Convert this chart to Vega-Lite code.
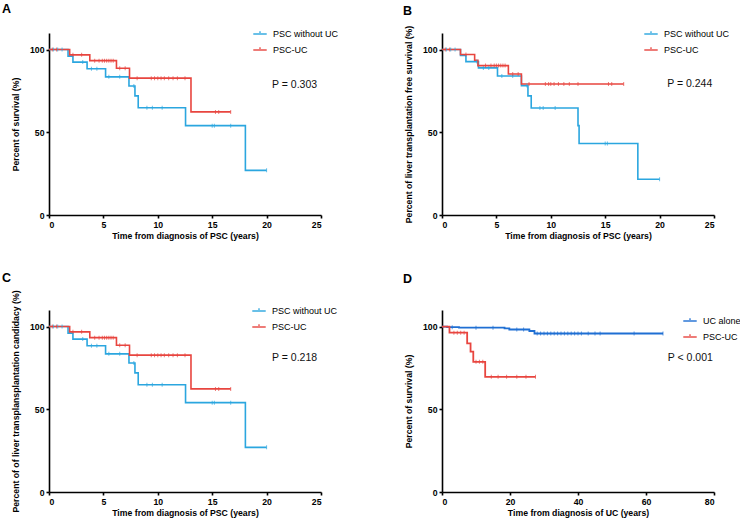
{
  "$schema": "https://vega.github.io/schema/vega-lite/v6.json",
  "background": "white",
  "padding": {"left": 2, "top": 2, "right": 0, "bottom": 0},
  "config": {
    "view": {"stroke": null},
    "font": "Liberation Sans",
    "axis": {"domainColor": "black", "domainWidth": 1.6, "tickColor": "black", "tickWidth": 1.6, "tickSize": 3, "labelFont": "Liberation Sans", "labelFontWeight": "bold", "labelFontSize": 8.7, "labelColor": "black", "titleFont": "Liberation Sans", "titleFontWeight": "bold", "titleFontSize": 8.7, "titleColor": "black", "grid": false, "labelPadding": 2},
    "axisY": {"titlePadding": 9},
    "axisX": {"titlePadding": 3},
    "title": {"anchor": "start", "frame": "group", "fontSize": 12.5, "font": "Liberation Sans", "fontWeight": "bold", "color": "black", "baseline": "alphabetic"},
    "legend": {"orient": "none", "title": null, "symbolType": "M-1,0H1M0,-0.4V0.15", "symbolSize": 180, "symbolStrokeWidth": 1.8, "labelFontSize": 9, "labelFont": "Liberation Sans", "labelColor": "black", "rowPadding": 3, "labelOffset": 5},
    "text": {"font": "Liberation Sans"}
  },
  "datasets": {
    "steps": [
      {"p": "A", "g": "PSC without UC", "t": 0, "s": 100}, {"p": "A", "g": "PSC without UC", "t": 1.75, "s": 96}, {"p": "A", "g": "PSC without UC", "t": 2.2, "s": 92.4}, {"p": "A", "g": "PSC without UC", "t": 3.5, "s": 88.4}, {"p": "A", "g": "PSC without UC", "t": 5.2, "s": 83.5}, {"p": "A", "g": "PSC without UC", "t": 7.35, "s": 78}, {"p": "A", "g": "PSC without UC", "t": 7.9, "s": 72}, {"p": "A", "g": "PSC without UC", "t": 8.2, "s": 64.8}, {"p": "A", "g": "PSC without UC", "t": 12.55, "s": 54}, {"p": "A", "g": "PSC without UC", "t": 18.05, "s": 27}, {"p": "A", "g": "PSC without UC", "t": 20, "s": 27},
      {"p": "A", "g": "PSC-UC", "t": 0, "s": 100}, {"p": "A", "g": "PSC-UC", "t": 1.9, "s": 96.8}, {"p": "A", "g": "PSC-UC", "t": 3.75, "s": 93.3}, {"p": "A", "g": "PSC-UC", "t": 6.2, "s": 88.7}, {"p": "A", "g": "PSC-UC", "t": 7.4, "s": 82.7}, {"p": "A", "g": "PSC-UC", "t": 13.05, "s": 62.3}, {"p": "A", "g": "PSC-UC", "t": 16.7, "s": 62.3},
      {"p": "B", "g": "PSC without UC", "t": 0, "s": 100}, {"p": "B", "g": "PSC without UC", "t": 1.7, "s": 96.4}, {"p": "B", "g": "PSC without UC", "t": 2.2, "s": 92.7}, {"p": "B", "g": "PSC without UC", "t": 3.35, "s": 88.9}, {"p": "B", "g": "PSC without UC", "t": 5.1, "s": 84}, {"p": "B", "g": "PSC without UC", "t": 7.3, "s": 78.2}, {"p": "B", "g": "PSC without UC", "t": 7.9, "s": 72}, {"p": "B", "g": "PSC without UC", "t": 8.2, "s": 64.7}, {"p": "B", "g": "PSC without UC", "t": 12.5, "s": 54}, {"p": "B", "g": "PSC without UC", "t": 12.6, "s": 43.2}, {"p": "B", "g": "PSC without UC", "t": 18, "s": 21.6}, {"p": "B", "g": "PSC without UC", "t": 20, "s": 21.6},
      {"p": "B", "g": "PSC-UC", "t": 0, "s": 100}, {"p": "B", "g": "PSC-UC", "t": 1.7, "s": 97}, {"p": "B", "g": "PSC-UC", "t": 3.0, "s": 93.5}, {"p": "B", "g": "PSC-UC", "t": 3.3, "s": 90.3}, {"p": "B", "g": "PSC-UC", "t": 6.1, "s": 85.2}, {"p": "B", "g": "PSC-UC", "t": 7.3, "s": 79.2}, {"p": "B", "g": "PSC-UC", "t": 16.7, "s": 79.2},
      {"p": "C", "g": "PSC without UC", "t": 0, "s": 100}, {"p": "C", "g": "PSC without UC", "t": 1.75, "s": 96}, {"p": "C", "g": "PSC without UC", "t": 2.2, "s": 92.4}, {"p": "C", "g": "PSC without UC", "t": 3.5, "s": 88.4}, {"p": "C", "g": "PSC without UC", "t": 5.2, "s": 83.5}, {"p": "C", "g": "PSC without UC", "t": 7.35, "s": 78}, {"p": "C", "g": "PSC without UC", "t": 7.9, "s": 72}, {"p": "C", "g": "PSC without UC", "t": 8.2, "s": 64.8}, {"p": "C", "g": "PSC without UC", "t": 12.55, "s": 54}, {"p": "C", "g": "PSC without UC", "t": 18.05, "s": 27}, {"p": "C", "g": "PSC without UC", "t": 20, "s": 27},
      {"p": "C", "g": "PSC-UC", "t": 0, "s": 100}, {"p": "C", "g": "PSC-UC", "t": 1.9, "s": 96.8}, {"p": "C", "g": "PSC-UC", "t": 3.75, "s": 93.3}, {"p": "C", "g": "PSC-UC", "t": 6.2, "s": 88.7}, {"p": "C", "g": "PSC-UC", "t": 7.4, "s": 82.7}, {"p": "C", "g": "PSC-UC", "t": 13.05, "s": 62.3}, {"p": "C", "g": "PSC-UC", "t": 16.7, "s": 62.3},
      {"p": "D", "g": "UC alone", "t": 0, "s": 100}, {"p": "D", "g": "UC alone", "t": 1.5, "s": 99.6}, {"p": "D", "g": "UC alone", "t": 5, "s": 99.3}, {"p": "D", "g": "UC alone", "t": 18.4, "s": 98.9}, {"p": "D", "g": "UC alone", "t": 19.8, "s": 98.2}, {"p": "D", "g": "UC alone", "t": 25.7, "s": 97.3}, {"p": "D", "g": "UC alone", "t": 27.2, "s": 95.8}, {"p": "D", "g": "UC alone", "t": 65, "s": 95.8},
      {"p": "D", "g": "PSC-UC", "t": 0, "s": 100}, {"p": "D", "g": "PSC-UC", "t": 2.2, "s": 96.3}, {"p": "D", "g": "PSC-UC", "t": 7.4, "s": 89.8}, {"p": "D", "g": "PSC-UC", "t": 8.4, "s": 84.8}, {"p": "D", "g": "PSC-UC", "t": 9.2, "s": 78.7}, {"p": "D", "g": "PSC-UC", "t": 12.7, "s": 69.6}, {"p": "D", "g": "PSC-UC", "t": 27.5, "s": 69.6}
    ],
    "cens": [
      {"p": "A", "g": "PSC without UC", "t": 0.4, "s": 100}, {"p": "A", "g": "PSC without UC", "t": 0.8, "s": 100}, {"p": "A", "g": "PSC without UC", "t": 1.2, "s": 100}, {"p": "A", "g": "PSC without UC", "t": 3.1, "s": 92.4}, {"p": "A", "g": "PSC without UC", "t": 3.9, "s": 88.4}, {"p": "A", "g": "PSC without UC", "t": 4.4, "s": 88.4}, {"p": "A", "g": "PSC without UC", "t": 5.5, "s": 83.5}, {"p": "A", "g": "PSC without UC", "t": 6.5, "s": 83.5}, {"p": "A", "g": "PSC without UC", "t": 7.8, "s": 78}, {"p": "A", "g": "PSC without UC", "t": 9, "s": 64.8}, {"p": "A", "g": "PSC without UC", "t": 9.5, "s": 64.8}, {"p": "A", "g": "PSC without UC", "t": 10.4, "s": 64.8}, {"p": "A", "g": "PSC without UC", "t": 15, "s": 54}, {"p": "A", "g": "PSC without UC", "t": 15.2, "s": 54}, {"p": "A", "g": "PSC without UC", "t": 16.7, "s": 54}, {"p": "A", "g": "PSC without UC", "t": 20, "s": 27},
      {"p": "A", "g": "PSC-UC", "t": 0.3, "s": 100}, {"p": "A", "g": "PSC-UC", "t": 0.7, "s": 100}, {"p": "A", "g": "PSC-UC", "t": 2.2, "s": 96.8}, {"p": "A", "g": "PSC-UC", "t": 3.0, "s": 96.8}, {"p": "A", "g": "PSC-UC", "t": 4.2, "s": 93.3}, {"p": "A", "g": "PSC-UC", "t": 4.6, "s": 93.3}, {"p": "A", "g": "PSC-UC", "t": 4.9, "s": 93.3}, {"p": "A", "g": "PSC-UC", "t": 5.1, "s": 93.3}, {"p": "A", "g": "PSC-UC", "t": 5.3, "s": 93.3}, {"p": "A", "g": "PSC-UC", "t": 5.5, "s": 93.3}, {"p": "A", "g": "PSC-UC", "t": 5.7, "s": 93.3}, {"p": "A", "g": "PSC-UC", "t": 5.9, "s": 93.3}, {"p": "A", "g": "PSC-UC", "t": 6.5, "s": 88.7}, {"p": "A", "g": "PSC-UC", "t": 7.0, "s": 88.7}, {"p": "A", "g": "PSC-UC", "t": 8.1, "s": 82.7}, {"p": "A", "g": "PSC-UC", "t": 9.4, "s": 82.7}, {"p": "A", "g": "PSC-UC", "t": 9.7, "s": 82.7}, {"p": "A", "g": "PSC-UC", "t": 10.0, "s": 82.7}, {"p": "A", "g": "PSC-UC", "t": 10.3, "s": 82.7}, {"p": "A", "g": "PSC-UC", "t": 10.6, "s": 82.7}, {"p": "A", "g": "PSC-UC", "t": 11.0, "s": 82.7}, {"p": "A", "g": "PSC-UC", "t": 11.4, "s": 82.7}, {"p": "A", "g": "PSC-UC", "t": 11.8, "s": 82.7}, {"p": "A", "g": "PSC-UC", "t": 12.5, "s": 82.7}, {"p": "A", "g": "PSC-UC", "t": 15.3, "s": 62.3}, {"p": "A", "g": "PSC-UC", "t": 15.6, "s": 62.3}, {"p": "A", "g": "PSC-UC", "t": 16.7, "s": 62.3},
      {"p": "B", "g": "PSC without UC", "t": 0.4, "s": 100}, {"p": "B", "g": "PSC without UC", "t": 0.8, "s": 100}, {"p": "B", "g": "PSC without UC", "t": 1.2, "s": 100}, {"p": "B", "g": "PSC without UC", "t": 3.2, "s": 92.7}, {"p": "B", "g": "PSC without UC", "t": 3.8, "s": 88.9}, {"p": "B", "g": "PSC without UC", "t": 4.3, "s": 88.9}, {"p": "B", "g": "PSC without UC", "t": 5.5, "s": 84}, {"p": "B", "g": "PSC without UC", "t": 6.5, "s": 84}, {"p": "B", "g": "PSC without UC", "t": 7.8, "s": 78.2}, {"p": "B", "g": "PSC without UC", "t": 9, "s": 64.7}, {"p": "B", "g": "PSC without UC", "t": 9.3, "s": 64.7}, {"p": "B", "g": "PSC without UC", "t": 10.4, "s": 64.7}, {"p": "B", "g": "PSC without UC", "t": 15, "s": 43.2}, {"p": "B", "g": "PSC without UC", "t": 15.2, "s": 43.2}, {"p": "B", "g": "PSC without UC", "t": 20, "s": 21.6},
      {"p": "B", "g": "PSC-UC", "t": 0.3, "s": 100}, {"p": "B", "g": "PSC-UC", "t": 0.7, "s": 100}, {"p": "B", "g": "PSC-UC", "t": 2.2, "s": 97}, {"p": "B", "g": "PSC-UC", "t": 4.0, "s": 90.3}, {"p": "B", "g": "PSC-UC", "t": 4.5, "s": 90.3}, {"p": "B", "g": "PSC-UC", "t": 4.8, "s": 90.3}, {"p": "B", "g": "PSC-UC", "t": 5.0, "s": 90.3}, {"p": "B", "g": "PSC-UC", "t": 5.2, "s": 90.3}, {"p": "B", "g": "PSC-UC", "t": 5.4, "s": 90.3}, {"p": "B", "g": "PSC-UC", "t": 5.6, "s": 90.3}, {"p": "B", "g": "PSC-UC", "t": 5.8, "s": 90.3}, {"p": "B", "g": "PSC-UC", "t": 6.5, "s": 85.2}, {"p": "B", "g": "PSC-UC", "t": 7.0, "s": 85.2}, {"p": "B", "g": "PSC-UC", "t": 8.0, "s": 79.2}, {"p": "B", "g": "PSC-UC", "t": 9.5, "s": 79.2}, {"p": "B", "g": "PSC-UC", "t": 9.8, "s": 79.2}, {"p": "B", "g": "PSC-UC", "t": 10.0, "s": 79.2}, {"p": "B", "g": "PSC-UC", "t": 10.3, "s": 79.2}, {"p": "B", "g": "PSC-UC", "t": 10.7, "s": 79.2}, {"p": "B", "g": "PSC-UC", "t": 11.2, "s": 79.2}, {"p": "B", "g": "PSC-UC", "t": 11.7, "s": 79.2}, {"p": "B", "g": "PSC-UC", "t": 12.5, "s": 79.2}, {"p": "B", "g": "PSC-UC", "t": 15.3, "s": 79.2}, {"p": "B", "g": "PSC-UC", "t": 15.6, "s": 79.2}, {"p": "B", "g": "PSC-UC", "t": 16.7, "s": 79.2},
      {"p": "C", "g": "PSC without UC", "t": 0.4, "s": 100}, {"p": "C", "g": "PSC without UC", "t": 0.8, "s": 100}, {"p": "C", "g": "PSC without UC", "t": 1.2, "s": 100}, {"p": "C", "g": "PSC without UC", "t": 3.1, "s": 92.4}, {"p": "C", "g": "PSC without UC", "t": 3.9, "s": 88.4}, {"p": "C", "g": "PSC without UC", "t": 4.4, "s": 88.4}, {"p": "C", "g": "PSC without UC", "t": 5.5, "s": 83.5}, {"p": "C", "g": "PSC without UC", "t": 6.5, "s": 83.5}, {"p": "C", "g": "PSC without UC", "t": 7.8, "s": 78}, {"p": "C", "g": "PSC without UC", "t": 9, "s": 64.8}, {"p": "C", "g": "PSC without UC", "t": 9.5, "s": 64.8}, {"p": "C", "g": "PSC without UC", "t": 10.4, "s": 64.8}, {"p": "C", "g": "PSC without UC", "t": 15, "s": 54}, {"p": "C", "g": "PSC without UC", "t": 15.2, "s": 54}, {"p": "C", "g": "PSC without UC", "t": 16.7, "s": 54}, {"p": "C", "g": "PSC without UC", "t": 20, "s": 27},
      {"p": "C", "g": "PSC-UC", "t": 0.3, "s": 100}, {"p": "C", "g": "PSC-UC", "t": 0.7, "s": 100}, {"p": "C", "g": "PSC-UC", "t": 2.2, "s": 96.8}, {"p": "C", "g": "PSC-UC", "t": 3.0, "s": 96.8}, {"p": "C", "g": "PSC-UC", "t": 4.2, "s": 93.3}, {"p": "C", "g": "PSC-UC", "t": 4.6, "s": 93.3}, {"p": "C", "g": "PSC-UC", "t": 4.9, "s": 93.3}, {"p": "C", "g": "PSC-UC", "t": 5.1, "s": 93.3}, {"p": "C", "g": "PSC-UC", "t": 5.3, "s": 93.3}, {"p": "C", "g": "PSC-UC", "t": 5.5, "s": 93.3}, {"p": "C", "g": "PSC-UC", "t": 5.7, "s": 93.3}, {"p": "C", "g": "PSC-UC", "t": 5.9, "s": 93.3}, {"p": "C", "g": "PSC-UC", "t": 6.5, "s": 88.7}, {"p": "C", "g": "PSC-UC", "t": 7.0, "s": 88.7}, {"p": "C", "g": "PSC-UC", "t": 8.1, "s": 82.7}, {"p": "C", "g": "PSC-UC", "t": 9.4, "s": 82.7}, {"p": "C", "g": "PSC-UC", "t": 9.7, "s": 82.7}, {"p": "C", "g": "PSC-UC", "t": 10.0, "s": 82.7}, {"p": "C", "g": "PSC-UC", "t": 10.3, "s": 82.7}, {"p": "C", "g": "PSC-UC", "t": 10.6, "s": 82.7}, {"p": "C", "g": "PSC-UC", "t": 11.0, "s": 82.7}, {"p": "C", "g": "PSC-UC", "t": 11.4, "s": 82.7}, {"p": "C", "g": "PSC-UC", "t": 11.8, "s": 82.7}, {"p": "C", "g": "PSC-UC", "t": 12.5, "s": 82.7}, {"p": "C", "g": "PSC-UC", "t": 15.3, "s": 62.3}, {"p": "C", "g": "PSC-UC", "t": 15.6, "s": 62.3}, {"p": "C", "g": "PSC-UC", "t": 16.7, "s": 62.3},
      {"p": "D", "g": "UC alone", "t": 3, "s": 99.6}, {"p": "D", "g": "UC alone", "t": 10, "s": 99.3}, {"p": "D", "g": "UC alone", "t": 15, "s": 99.3}, {"p": "D", "g": "UC alone", "t": 22, "s": 98.2}, {"p": "D", "g": "UC alone", "t": 24, "s": 98.2}, {"p": "D", "g": "UC alone", "t": 28, "s": 95.8}, {"p": "D", "g": "UC alone", "t": 29, "s": 95.8}, {"p": "D", "g": "UC alone", "t": 30, "s": 95.8}, {"p": "D", "g": "UC alone", "t": 31, "s": 95.8}, {"p": "D", "g": "UC alone", "t": 32, "s": 95.8}, {"p": "D", "g": "UC alone", "t": 33, "s": 95.8}, {"p": "D", "g": "UC alone", "t": 34, "s": 95.8}, {"p": "D", "g": "UC alone", "t": 35, "s": 95.8}, {"p": "D", "g": "UC alone", "t": 36, "s": 95.8}, {"p": "D", "g": "UC alone", "t": 37, "s": 95.8}, {"p": "D", "g": "UC alone", "t": 38, "s": 95.8}, {"p": "D", "g": "UC alone", "t": 39, "s": 95.8}, {"p": "D", "g": "UC alone", "t": 40, "s": 95.8}, {"p": "D", "g": "UC alone", "t": 41, "s": 95.8}, {"p": "D", "g": "UC alone", "t": 43, "s": 95.8}, {"p": "D", "g": "UC alone", "t": 45, "s": 95.8}, {"p": "D", "g": "UC alone", "t": 46.5, "s": 95.8}, {"p": "D", "g": "UC alone", "t": 56.5, "s": 95.8}, {"p": "D", "g": "UC alone", "t": 65, "s": 95.8},
      {"p": "D", "g": "PSC-UC", "t": 3.5, "s": 96.3}, {"p": "D", "g": "PSC-UC", "t": 4.5, "s": 96.3}, {"p": "D", "g": "PSC-UC", "t": 5.5, "s": 96.3}, {"p": "D", "g": "PSC-UC", "t": 6.5, "s": 96.3}, {"p": "D", "g": "PSC-UC", "t": 10, "s": 78.7}, {"p": "D", "g": "PSC-UC", "t": 11, "s": 78.7}, {"p": "D", "g": "PSC-UC", "t": 12, "s": 78.7}, {"p": "D", "g": "PSC-UC", "t": 14.5, "s": 69.6}, {"p": "D", "g": "PSC-UC", "t": 16.5, "s": 69.6}, {"p": "D", "g": "PSC-UC", "t": 19, "s": 69.6}, {"p": "D", "g": "PSC-UC", "t": 22, "s": 69.6}, {"p": "D", "g": "PSC-UC", "t": 24.7, "s": 69.6}, {"p": "D", "g": "PSC-UC", "t": 27.5, "s": 69.6}
    ]
  },
  "columns": 2,
  "spacing": {"row": 95, "column": 121},
  "bounds": "flush",
  "resolve": {"scale": {"x": "independent", "y": "independent", "color": "independent"}, "legend": {"color": "independent"}},
  "concat": [
    {
      "width": 272, "height": 182,
      "title": {"text": "A", "dx": -47, "offset": 11},
      "layer": [
        {"data": {"name": "steps"}, "transform": [{"filter": "datum.p === 'A'"}],
         "mark": {"type": "line", "interpolate": "step-after", "strokeWidth": 1.6},
         "encoding": {
           "x": {"field": "t", "type": "quantitative", "scale": {"domain": [0, 25], "nice": false}, "axis": {"values": [0, 5, 10, 15, 20, 25], "title": "Time from diagnosis of PSC (years)"}},
           "y": {"field": "s", "type": "quantitative", "scale": {"domain": [0, 110], "nice": false}, "axis": {"values": [0, 50, 100], "title": "Percent of survival (%)"}},
           "color": {"field": "g", "type": "nominal", "scale": {"domain": ["PSC without UC", "PSC-UC"], "range": ["#2BA6DF", "#E8453F"]}, "legend": {"legendX": 203, "legendY": -7}}
         }},
        {"data": {"name": "cens"}, "transform": [{"filter": "datum.p === 'A'"}],
         "mark": {"type": "tick", "orient": "vertical", "size": 4, "thickness": 1},
         "encoding": {
           "x": {"field": "t", "type": "quantitative"},
           "y": {"field": "s", "type": "quantitative"},
           "color": {"field": "g", "type": "nominal", "scale": {"domain": ["PSC without UC", "PSC-UC"], "range": ["#2BA6DF", "#E8453F"]}, "legend": {"legendX": 203, "legendY": -7}}
         }},
        {"data": {"values": [{}]}, "mark": {"type": "text", "align": "left", "baseline": "middle", "fontSize": 10.5, "color": "#111"},
         "encoding": {"x": {"datum": 20.5, "type": "quantitative"}, "y": {"datum": 78.3, "type": "quantitative"}, "text": {"value": "P = 0.303"}}}
      ]
    },
    {
      "width": 272, "height": 182,
      "title": {"text": "B", "dx": -39, "offset": 8},
      "layer": [
        {"data": {"name": "steps"}, "transform": [{"filter": "datum.p === 'B'"}],
         "mark": {"type": "line", "interpolate": "step-after", "strokeWidth": 1.6},
         "encoding": {
           "x": {"field": "t", "type": "quantitative", "scale": {"domain": [0, 25], "nice": false}, "axis": {"values": [0, 5, 10, 15, 20, 25], "title": "Time from diagnosis of PSC (years)"}},
           "y": {"field": "s", "type": "quantitative", "scale": {"domain": [0, 110], "nice": false}, "axis": {"values": [0, 50, 100], "title": "Percent of liver transplantation free survival (%)"}},
           "color": {"field": "g", "type": "nominal", "scale": {"domain": ["PSC without UC", "PSC-UC"], "range": ["#2BA6DF", "#E8453F"]}, "legend": {"legendX": 201, "legendY": -7}}
         }},
        {"data": {"name": "cens"}, "transform": [{"filter": "datum.p === 'B'"}],
         "mark": {"type": "tick", "orient": "vertical", "size": 4, "thickness": 1},
         "encoding": {
           "x": {"field": "t", "type": "quantitative"},
           "y": {"field": "s", "type": "quantitative"},
           "color": {"field": "g", "type": "nominal", "scale": {"domain": ["PSC without UC", "PSC-UC"], "range": ["#2BA6DF", "#E8453F"]}, "legend": {"legendX": 201, "legendY": -7}}
         }},
        {"data": {"values": [{}]}, "mark": {"type": "text", "align": "left", "baseline": "middle", "fontSize": 10.5, "color": "#111"},
         "encoding": {"x": {"datum": 20.7, "type": "quantitative"}, "y": {"datum": 79.4, "type": "quantitative"}, "text": {"value": "P = 0.244"}}}
      ]
    },
    {
      "width": 272, "height": 182,
      "title": {"text": "C", "dx": -47, "offset": 5},
      "layer": [
        {"data": {"name": "steps"}, "transform": [{"filter": "datum.p === 'C'"}],
         "mark": {"type": "line", "interpolate": "step-after", "strokeWidth": 1.6},
         "encoding": {
           "x": {"field": "t", "type": "quantitative", "scale": {"domain": [0, 25], "nice": false}, "axis": {"values": [0, 5, 10, 15, 20, 25], "title": "Time from diagnosis of PSC (years)"}},
           "y": {"field": "s", "type": "quantitative", "scale": {"domain": [0, 110], "nice": false}, "axis": {"values": [0, 50, 100], "title": "Percent of of liver transplansplantation candidacy (%)"}},
           "color": {"field": "g", "type": "nominal", "scale": {"domain": ["PSC without UC", "PSC-UC"], "range": ["#2BA6DF", "#E8453F"]}, "legend": {"legendX": 202, "legendY": -7}}
         }},
        {"data": {"name": "cens"}, "transform": [{"filter": "datum.p === 'C'"}],
         "mark": {"type": "tick", "orient": "vertical", "size": 4, "thickness": 1},
         "encoding": {
           "x": {"field": "t", "type": "quantitative"},
           "y": {"field": "s", "type": "quantitative"},
           "color": {"field": "g", "type": "nominal", "scale": {"domain": ["PSC without UC", "PSC-UC"], "range": ["#2BA6DF", "#E8453F"]}, "legend": {"legendX": 202, "legendY": -7}}
         }},
        {"data": {"values": [{}]}, "mark": {"type": "text", "align": "left", "baseline": "middle", "fontSize": 10.5, "color": "#111"},
         "encoding": {"x": {"datum": 20.5, "type": "quantitative"}, "y": {"datum": 81, "type": "quantitative"}, "text": {"value": "P = 0.218"}}}
      ]
    },
    {
      "width": 272, "height": 182,
      "title": {"text": "D", "dx": -39, "offset": 25},
      "layer": [
        {"data": {"name": "steps"}, "transform": [{"filter": "datum.p === 'D'"}],
         "mark": {"type": "line", "interpolate": "step-after", "strokeWidth": 1.8},
         "encoding": {
           "x": {"field": "t", "type": "quantitative", "scale": {"domain": [0, 80], "nice": false}, "axis": {"values": [0, 20, 40, 60, 80], "title": "Time from diagnosis of UC (years)"}},
           "y": {"field": "s", "type": "quantitative", "scale": {"domain": [0, 110], "nice": false}, "axis": {"values": [0, 50, 100], "title": "Percent of survival (%)"}},
           "color": {"field": "g", "type": "nominal", "scale": {"domain": ["UC alone", "PSC-UC"], "range": ["#1F6FD3", "#E8453F"]}, "legend": {"legendX": 240, "legendY": 3}}
         }},
        {"data": {"name": "cens"}, "transform": [{"filter": "datum.p === 'D'"}],
         "mark": {"type": "tick", "orient": "vertical", "size": 4, "thickness": 1},
         "encoding": {
           "x": {"field": "t", "type": "quantitative"},
           "y": {"field": "s", "type": "quantitative"},
           "color": {"field": "g", "type": "nominal", "scale": {"domain": ["UC alone", "PSC-UC"], "range": ["#1F6FD3", "#E8453F"]}, "legend": {"legendX": 240, "legendY": 3}}
         }},
        {"data": {"values": [{}]}, "mark": {"type": "text", "align": "left", "baseline": "middle", "fontSize": 10.5, "color": "#111"},
         "encoding": {"x": {"datum": 66.4, "type": "quantitative"}, "y": {"datum": 81, "type": "quantitative"}, "text": {"value": "P < 0.001"}}}
      ]
    }
  ]
}
